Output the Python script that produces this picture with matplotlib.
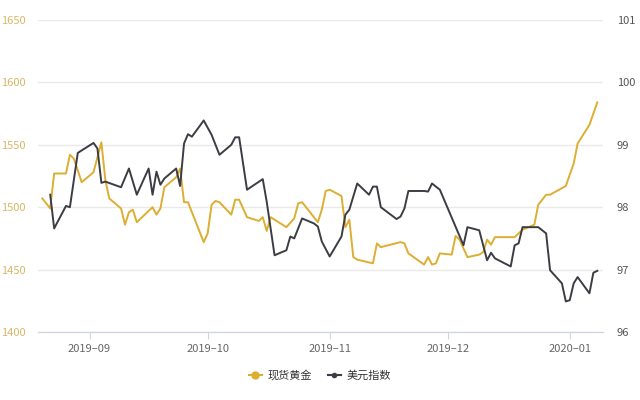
import matplotlib
matplotlib.use('Agg')
import matplotlib.pyplot as plt
import matplotlib.dates as mdates
from matplotlib.lines import Line2D
import pandas as pd

plt.rcParams['font.family'] = ['Noto Sans CJK SC', 'DejaVu Sans']

# 现货黄金 (左轴)
gold_dates = ['2019-08-20', '2019-08-22', '2019-08-23', '2019-08-26', '2019-08-27', '2019-08-28',
              '2019-08-30', '2019-09-02', '2019-09-04', '2019-09-05', '2019-09-06', '2019-09-09',
              '2019-09-10', '2019-09-11', '2019-09-12', '2019-09-13', '2019-09-17', '2019-09-18',
              '2019-09-19', '2019-09-20', '2019-09-23', '2019-09-24', '2019-09-25', '2019-09-26',
              '2019-09-30', '2019-10-01', '2019-10-02', '2019-10-03', '2019-10-04', '2019-10-07',
              '2019-10-08', '2019-10-09', '2019-10-11', '2019-10-14', '2019-10-15', '2019-10-16',
              '2019-10-17', '2019-10-18', '2019-10-21', '2019-10-23', '2019-10-24', '2019-10-25',
              '2019-10-29', '2019-10-30', '2019-10-31', '2019-11-01', '2019-11-04', '2019-11-05',
              '2019-11-06', '2019-11-07', '2019-11-08', '2019-11-12', '2019-11-13', '2019-11-14',
              '2019-11-19', '2019-11-20', '2019-11-21', '2019-11-25', '2019-11-26', '2019-11-27',
              '2019-11-28', '2019-11-29', '2019-12-02', '2019-12-03', '2019-12-04', '2019-12-06',
              '2019-12-09', '2019-12-10', '2019-12-11', '2019-12-12', '2019-12-13', '2019-12-18',
              '2019-12-19', '2019-12-20', '2019-12-23', '2019-12-24', '2019-12-26', '2019-12-27',
              '2019-12-31', '2020-01-02', '2020-01-03', '2020-01-06', '2020-01-08']
gold_values = [1507, 1499, 1527, 1527, 1542, 1539,
               1520, 1528, 1552, 1522, 1507, 1499,
               1486, 1496, 1498, 1488, 1500, 1494,
               1499, 1516, 1524, 1531, 1504, 1504,
               1472, 1479, 1502, 1505, 1504, 1494,
               1506, 1506, 1492, 1489, 1492, 1481,
               1492, 1490, 1484, 1491, 1503, 1504,
               1488, 1498, 1513, 1514, 1509, 1484,
               1490, 1460, 1458, 1455, 1471, 1468,
               1472, 1471, 1463, 1454, 1460, 1454,
               1455, 1463, 1462, 1477, 1474, 1460,
               1462, 1464, 1474, 1470, 1476, 1476,
               1479, 1482, 1486, 1502, 1510, 1510,
               1517, 1535, 1551, 1566, 1584]

# 美元指数 (右轴)
usd_dates = ['2019-08-22', '2019-08-23', '2019-08-26', '2019-08-27', '2019-08-29', '2019-09-02',
             '2019-09-03', '2019-09-04', '2019-09-05', '2019-09-09', '2019-09-11', '2019-09-13',
             '2019-09-16', '2019-09-17', '2019-09-18', '2019-09-19', '2019-09-20', '2019-09-23',
             '2019-09-24', '2019-09-25', '2019-09-26', '2019-09-27', '2019-09-30', '2019-10-02',
             '2019-10-04', '2019-10-07', '2019-10-08', '2019-10-09', '2019-10-11', '2019-10-15',
             '2019-10-16', '2019-10-18', '2019-10-21', '2019-10-22', '2019-10-23', '2019-10-25',
             '2019-10-28', '2019-10-29', '2019-10-30', '2019-11-01', '2019-11-04', '2019-11-05',
             '2019-11-06', '2019-11-08', '2019-11-11', '2019-11-12', '2019-11-13', '2019-11-14',
             '2019-11-18', '2019-11-19', '2019-11-20', '2019-11-21', '2019-11-25', '2019-11-26',
             '2019-11-27', '2019-11-29', '2019-12-05', '2019-12-06', '2019-12-09', '2019-12-11',
             '2019-12-12', '2019-12-13', '2019-12-17', '2019-12-18', '2019-12-19', '2019-12-20',
             '2019-12-24', '2019-12-26', '2019-12-27', '2019-12-30', '2019-12-31', '2020-01-01',
             '2020-01-02', '2020-01-03', '2020-01-06', '2020-01-07', '2020-01-08']
usd_values = [98.20, 97.66, 98.02, 98.00, 98.87, 99.03,
              98.94, 98.39, 98.41, 98.32, 98.62, 98.20,
              98.62, 98.20, 98.57, 98.36, 98.46, 98.62,
              98.34, 99.02, 99.17, 99.13, 99.39, 99.16,
              98.84, 99.00, 99.12, 99.12, 98.28, 98.45,
              98.09, 97.23, 97.31, 97.53, 97.50, 97.82,
              97.74, 97.69, 97.45, 97.21, 97.53, 97.88,
              97.96, 98.38, 98.20, 98.33, 98.33, 98.00,
              97.81, 97.85, 97.98, 98.26, 98.26, 98.25,
              98.38, 98.28, 97.39, 97.68, 97.63, 97.15,
              97.27, 97.18, 97.05, 97.39, 97.42, 97.68,
              97.68, 97.58, 96.99, 96.78, 96.49, 96.51,
              96.78, 96.88, 96.62, 96.95, 96.98]

gold_color = '#dcae32'
usd_color = '#3c3c44'

fig = plt.figure(figsize=(6.4, 4.0), dpi=100)
ax = fig.add_axes([0.059, 0.17, 0.883, 0.78])
ax2 = ax.twinx()

ax.plot(pd.to_datetime(gold_dates), gold_values, color=gold_color, lw=1.4, label='现货黄金')
ax2.plot(pd.to_datetime(usd_dates), usd_values, color=usd_color, lw=1.4, label='美元指数')

ax.set_ylim(1400, 1650)
ax.set_yticks([1400, 1450, 1500, 1550, 1600, 1650])
ax2.set_ylim(96, 101)
ax2.set_yticks([96, 97, 98, 99, 100, 101])
ax.set_xlim(pd.Timestamp('2019-08-18 20:00'), pd.Timestamp('2020-01-09 10:00'))

ax.xaxis.set_major_locator(mdates.MonthLocator())
ax.xaxis.set_major_formatter(mdates.DateFormatter('%Y–%m'))

ax.grid(axis='y', color='#eaeaea', lw=1)
ax.set_axisbelow(True)
for a in (ax, ax2):
    for s in ('top', 'left', 'right'):
        a.spines[s].set_visible(False)
    a.spines['bottom'].set_color('#d0d6e0')
ax.tick_params(axis='y', length=0, labelcolor='#d8b866', labelsize=8, pad=9)
ax2.tick_params(axis='y', length=0, labelcolor='#555555', labelsize=8, pad=10)
ax.tick_params(axis='x', length=5, color='#d0d6e0', labelcolor='#666666', labelsize=8, pad=4)

l1 = ax.get_legend_handles_labels()[1]
l2 = ax2.get_legend_handles_labels()[1]
handles = [Line2D([], [], color=gold_color, lw=1.5, marker='o', markersize=5),
           Line2D([], [], color=usd_color, lw=1.5, marker='o', markersize=3)]
fig.legend(handles, l1 + l2, loc='center', bbox_to_anchor=(0.5, 0.062), ncol=2, frameon=False,
           fontsize=8, handlelength=1.1, handletextpad=0.5, columnspacing=1.5,
           labelcolor='#333333')

fig.savefig('out.png', dpi=100)
